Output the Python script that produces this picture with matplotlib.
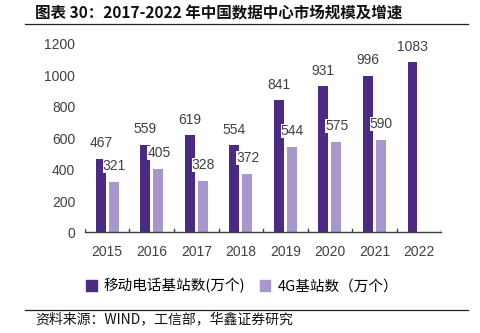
import numpy as np
import matplotlib.pyplot as plt
from matplotlib.lines import Line2D
from matplotlib.patches import Patch

plt.rcParams['font.family'] = ['Liberation Sans', 'Noto Sans CJK SC', 'DejaVu Sans']

years = ["2015", "2016", "2017", "2018", "2019", "2020", "2021", "2022"]
mobile = [467, 559, 619, 554, 841, 931, 996, 1083]
g4 = [321, 405, 328, 372, 544, 575, 590]

dark = "#4B2A83"
light = "#A797CD"
gray = "#404040"

fig = plt.figure(figsize=(4.8, 3.33), dpi=100)
ax = fig.add_axes([0.177, 0.302, 0.742, 0.566])

x = np.arange(len(years))
w = 0.22
ax.bar(x - 0.145, mobile, w, color=dark, zorder=2)
ax.bar(x[:len(g4)] + 0.145, g4, w, color=light, zorder=2)

for i, v in enumerate(mobile):
    ax.text(i - 0.145, v + 55, str(v), ha="center", va="bottom", fontsize=10,
            color=gray, zorder=3, bbox=dict(fc="white", ec="none", pad=0))
for i, v in enumerate(g4):
    ax.text(i + 0.16, v + 55, str(v), ha="center", va="bottom", fontsize=10,
            color=gray, zorder=3, bbox=dict(fc="white", ec="none", pad=0))

ax.set_xlim(-0.5, len(years) - 0.5)
ax.set_ylim(0, 1200)
ax.set_yticks(range(0, 1201, 200))
ax.tick_params(axis="y", length=0, labelsize=10, labelcolor=gray, pad=7)
ax.set_xticks(x)
ax.set_xticklabels(years)
ax.tick_params(axis="x", length=0, labelsize=10, labelcolor=gray, pad=9)
for b in np.arange(-0.5, len(years), 1):
    ax.plot([b, b], [0, 20], color=gray, lw=1, zorder=1)
for s in ["top", "right", "left"]:
    ax.spines[s].set_visible(False)
ax.spines["bottom"].set_color(gray)
ax.spines["bottom"].set_linewidth(1)

handles = [Patch(color=dark), Patch(color=light)]
fig.legend(handles, ["移动电话基站数(万个)", "4G基站数（万个）"],
           loc="center", bbox_to_anchor=(0.505, 0.141), ncol=2, frameon=False,
           handlelength=0.7, handleheight=0.7, handletextpad=0.5,
           columnspacing=1.0, prop={"family": ["Noto Sans CJK SC"], "size": 10.5})

fig.text(0.073, 0.961, "图表 30：2017-2022 年中国数据中心市场规模及增速", fontsize=11.2,
         fontweight="bold", family=["Noto Sans CJK SC"], va="center", color="#111111")
fig.add_artist(Line2D([0.052, 0.975], [0.928, 0.928], color="#222222", lw=0.9))
fig.add_artist(Line2D([0.052, 0.975], [0.069, 0.069], color="#222222", lw=0.9))
fig.text(0.073, 0.042, "资料来源：WIND，工信部，华鑫证券研究", fontsize=10,
         family=["Noto Sans CJK SC"], va="center", color="#111111")

fig.savefig("out.png", dpi=100)
